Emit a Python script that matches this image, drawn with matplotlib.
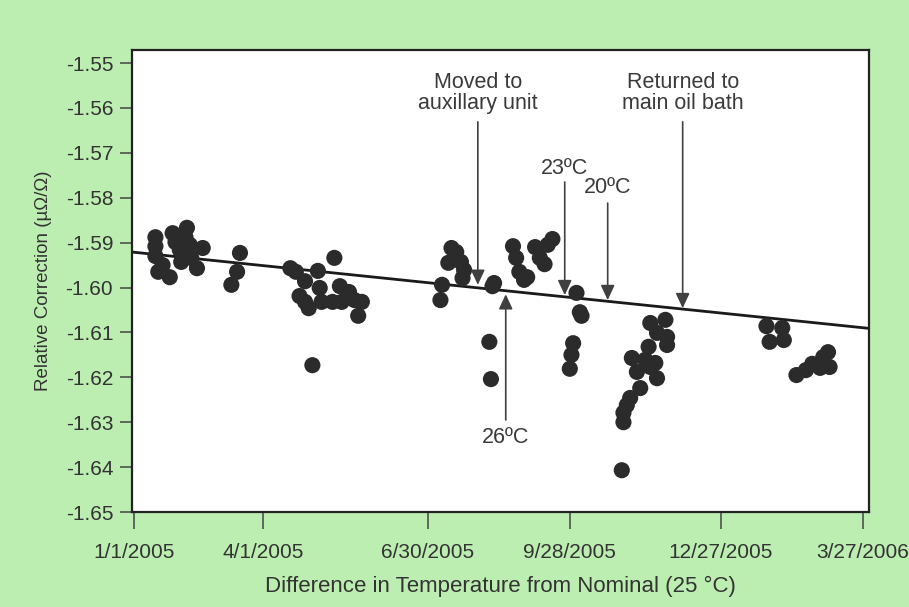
import numpy as np
import matplotlib
matplotlib.use("Agg")
import matplotlib.pyplot as plt

# ---------------- data ----------------
# measurement dates as days since 1/1/2005
days = [15, 15, 15, 17, 25, 27, 29, 32, 36, 37, 39, 40, 44, 48, 74, 72, 68, 20, 33,
        105, 108, 110, 113, 115, 117, 120, 121, 122, 129, 132, 133, 137, 140, 142, 144, 113, 128,
        188, 189, 195, 198, 193, 201, 203, 202, 222, 221, 219, 220, 234, 236, 238, 241, 243,
        248, 251, 254, 256, 259,
        274, 276, 277, 272, 271, 270, 301, 302, 302, 304, 306, 307, 310, 312, 315, 317, 318,
        321, 322, 318, 322, 327, 328, 328,
        389, 391, 399, 400, 408, 414, 418, 423, 425, 428, 429]
corrections = [-1.5888, -1.5908, -1.5930, -1.5965, -1.5977, -1.5879, -1.5899, -1.5916, -1.5888,
               -1.5867, -1.5905, -1.5934, -1.5957, -1.5912, -1.5923, -1.5965, -1.5994, -1.5950, -1.5943,
               -1.5957, -1.5965, -1.6019, -1.6032, -1.6046, -1.6173, -1.5963, -1.6001, -1.6032,
               -1.5934, -1.5997, -1.6032, -1.6010, -1.6028, -1.6063, -1.6032, -1.5986, -1.6032,
               -1.6028, -1.5994, -1.5912, -1.5921, -1.5945, -1.5943, -1.5961, -1.5979, -1.5990,
               -1.5997, -1.6121, -1.6204, -1.5908, -1.5934, -1.5965, -1.5983, -1.5977, -1.5910,
               -1.5934, -1.5948, -1.5905, -1.5892,
               -1.6012, -1.6055, -1.6063, -1.6124, -1.6150, -1.6181, -1.6407, -1.6300, -1.6279,
               -1.6262, -1.6246, -1.6157, -1.6188, -1.6224, -1.6161, -1.6132, -1.6177, -1.6168,
               -1.6202, -1.6079, -1.6101, -1.6072, -1.6110, -1.6128,
               -1.6086, -1.6121, -1.6090, -1.6117, -1.6195, -1.6184, -1.6170, -1.6179, -1.6155,
               -1.6144, -1.6177]

trend_days = [-1.5, 454]
trend_values = [-1.5921, -1.6091]

tick_days = [0, 90, 180, 270, 360, 450]
tick_labels = ["1/1/2005", "4/1/2005", "6/30/2005", "9/28/2005", "12/27/2005", "3/27/2006"]
y_ticks = [-1.55, -1.56, -1.57, -1.58, -1.59, -1.60, -1.61, -1.62, -1.63, -1.64, -1.65]

# annotations: text, its position, arrow tail and arrow tip
notes = ["Moved to\nauxillary unit", "Returned to\nmain oil bath", "23ºC", "20ºC", "26ºC"]
note_days = [211.7, 337.3, 266.8, 292.6, 229.4]
note_text_values = [-1.5567, -1.5567, -1.5734, -1.5778, -1.6333]
note_tail_values = [-1.5631, -1.5631, -1.5765, -1.5812, -1.6295]
note_tip_values = [-1.5994, -1.6046, -1.6017, -1.6028, -1.6015]

# ---------------- layout of the (scanned) date axis ----------------
knot_days = np.array([-900, 0, 90, 180, 270, 360, 450, 1350])
knot_pos = np.array([-1156, 0, 129, 294, 436, 587, 729, 2149], dtype=float)


def fwd(x):
    return np.interp(np.asarray(x, dtype=float), knot_days, knot_pos)


def inv(p):
    return np.interp(np.asarray(p, dtype=float), knot_pos, knot_days)


FONT = "Liberation Sans"
plt.rcParams["font.family"] = [FONT, "DejaVu Sans"]

BG = "#bdeeb1"
fig = plt.figure(figsize=(9.09, 6.07), dpi=100, facecolor=BG)
ax = fig.add_axes([132 / 909, 95 / 607, (869 - 132) / 909, (512 - 50) / 607])
ax.set_facecolor("white")
ax.set_xscale("function", functions=(fwd, inv))

ax.plot(trend_days, trend_values, color="#1a1a1a", lw=2.0, zorder=2, solid_capstyle="butt")
ax.scatter(days, corrections, s=135, color="#2b2b2b", edgecolors="none", zorder=3)

for txt, xd, ty, tail, tip in zip(notes, note_days, note_text_values, note_tail_values, note_tip_values):
    ax.text(xd, ty, txt, ha="center", va="center", fontsize=15.5, color="#3a3a3a",
            linespacing=1.02, zorder=4)
    ax.annotate("", xy=(xd, tip), xytext=(xd, tail),
                arrowprops=dict(arrowstyle="-|>,head_length=0.9,head_width=0.42",
                                color="#404040", lw=1.2, shrinkA=0, shrinkB=0,
                                mutation_scale=10),
                zorder=4)

ax.set_xlim(-1.5, 454)
ax.set_ylim(-1.65, -1.5471)
ax.set_xticks(tick_days)
ax.set_xticklabels(tick_labels)
ax.set_yticks(y_ticks)
ax.set_yticklabels([f"{v:.2f}" for v in y_ticks])
ax.minorticks_off()

ax.tick_params(axis="x", direction="out", length=12, width=1.1, color="#444444",
               pad=10, labelsize=15, labelcolor="#333333")
ax.tick_params(axis="y", direction="out", length=8.5, width=1.1, color="#444444",
               pad=5, labelsize=15, labelcolor="#333333")
for s in ax.spines.values():
    s.set_linewidth(1.6)
    s.set_color("#222222")

ax.set_xlabel("Difference in Temperature from Nominal (25 °C)", fontsize=16,
              color="#333333", labelpad=10)
ax.set_ylabel("Relative Correction (µΩ/Ω)", fontsize=13.5, color="#333333", labelpad=10)

fig.savefig("out.png", dpi=100, facecolor=BG)
